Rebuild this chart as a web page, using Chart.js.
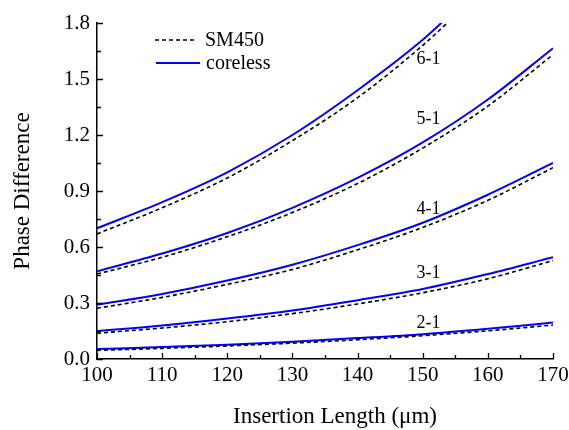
<!DOCTYPE html>
<html>
<head>
<meta charset="utf-8">
<script src="https://cdn.jsdelivr.net/npm/chart.js@4/dist/chart.umd.min.js"></script>
<style>
  html, body { margin: 0; padding: 0; background: #fff; }
  #wrap { width: 569px; height: 430px; }
</style>
</head>
<body>
<div id="wrap"><canvas id="phaseChart" width="569" height="430"></canvas></div>
<script>
// insertion lengths (um)
const lengths = [100, 110, 120, 130, 140, 150, 160, 170];
const lengths61 = [100, 110, 120, 130, 140, 150, 155];

// phase difference
const core61 = [0.70, 0.84, 1.00, 1.20, 1.44, 1.71, 1.87];
const sm61 = [0.67, 0.81, 0.97, 1.17, 1.40, 1.68, 1.84];
const core51 = [0.47, 0.565, 0.675, 0.81, 0.97, 1.16, 1.39, 1.665];
const sm51 = [0.455, 0.545, 0.655, 0.785, 0.94, 1.13, 1.355, 1.63];
const core41 = [0.29, 0.348, 0.42, 0.505, 0.61, 0.73, 0.88, 1.05];
const sm41 = [0.272, 0.33, 0.40, 0.48, 0.585, 0.705, 0.85, 1.025];
const core31 = [0.15, 0.18, 0.217, 0.26, 0.315, 0.375, 0.455, 0.545];
const sm31 = [0.138, 0.166, 0.20, 0.243, 0.295, 0.355, 0.43, 0.527];
const core21 = [0.053, 0.064, 0.077, 0.093, 0.112, 0.133, 0.162, 0.195];
const sm21 = [0.046, 0.057, 0.07, 0.085, 0.103, 0.125, 0.151, 0.182];

// curve labels: [text, x, y]
const curveLabels = [
  ['6-1', 150.9, 1.607],
  ['5-1', 150.9, 1.286],
  ['4-1', 150.9, 0.80],
  ['3-1', 150.9, 0.46],
  ['2-1', 150.9, 0.19]
];

const xTicks = [100, 110, 120, 130, 140, 150, 160, 170];
const yTicks = [0.0, 0.3, 0.6, 0.9, 1.2, 1.5, 1.8];

const FONT = '"Liberation Serif", "Times New Roman", serif';

function pts(xs, ys) {
  return xs.map((x, i) => ({ x: x, y: ys[i] }));
}

function smSet(xs, ys) {
  return {
    label: 'SM450',
    data: pts(xs, ys),
    borderColor: '#000000',
    borderWidth: 1.6,
    borderDash: [4, 3],
    pointRadius: 0,
    fill: false,
    cubicInterpolationMode: 'monotone'
  };
}

function coreSet(xs, ys) {
  return {
    label: 'coreless',
    data: pts(xs, ys),
    borderColor: '#0000ff',
    borderWidth: 2,
    pointRadius: 0,
    fill: false,
    cubicInterpolationMode: 'monotone'
  };
}

// inward ticks, legend, curve labels and x title
const decorPlugin = {
  id: 'decor',
  afterDraw(chart) {
    const ctx = chart.ctx;
    const xs = chart.scales.x;
    const ys = chart.scales.y;
    const area = chart.chartArea;
    ctx.save();
    ctx.strokeStyle = '#000';
    ctx.lineWidth = 1.3;
    ctx.beginPath();
    for (let v = 100; v <= 170; v += 5) {
      const px = Math.round(xs.getPixelForValue(v)) + 0.5;
      const len = v % 10 === 0 ? 6 : 4;
      ctx.moveTo(px, area.bottom);
      ctx.lineTo(px, area.bottom - len);
    }
    for (let i = 0; i <= 12; i++) {
      const py = Math.round(ys.getPixelForValue(i * 0.15)) + 0.5;
      const len = i % 2 === 0 ? 6 : 4;
      ctx.moveTo(area.left, py);
      ctx.lineTo(area.left + len, py);
    }
    ctx.stroke();

    // legend
    ctx.font = '20px ' + FONT;
    ctx.fillStyle = '#000';
    ctx.textBaseline = 'middle';
    ctx.textAlign = 'left';
    ctx.setLineDash([4, 3]);
    ctx.lineWidth = 1.6;
    ctx.strokeStyle = '#000';
    ctx.beginPath();
    ctx.moveTo(155, 40);
    ctx.lineTo(197, 40);
    ctx.stroke();
    ctx.setLineDash([]);
    ctx.fillText('SM450', 205, 41);
    ctx.lineWidth = 2;
    ctx.strokeStyle = '#0000ff';
    ctx.beginPath();
    ctx.moveTo(156, 63);
    ctx.lineTo(200, 63);
    ctx.stroke();
    ctx.fillText('coreless', 206, 64);

    // curve labels
    ctx.font = '18px ' + FONT;
    ctx.textAlign = 'center';
    curveLabels.forEach(([t, x, y]) => {
      ctx.fillText(t, xs.getPixelForValue(x), ys.getPixelForValue(y));
    });

    // x axis title (sits a little right of the axis centre in the original)
    ctx.font = '23px ' + FONT;
    ctx.fillText('Insertion Length (μm)', (area.left + area.right) / 2 + 10, 417);
    ctx.restore();
  }
};

const chart = new Chart(document.getElementById('phaseChart'), {
  type: 'line',
  data: {
    datasets: [
      smSet(lengths61, sm61), coreSet(lengths61, core61),
      smSet(lengths, sm51), coreSet(lengths, core51),
      smSet(lengths, sm41), coreSet(lengths, core41),
      smSet(lengths, sm31), coreSet(lengths, core31),
      smSet(lengths, sm21), coreSet(lengths, core21)
    ]
  },
  options: {
    responsive: false,
    animation: false,
    devicePixelRatio: 1,
    layout: {
      padding: { left: 0, right: 16, top: 23, bottom: 0 }
    },
    plugins: {
      legend: { display: false },
      tooltip: { enabled: false }
    },
    scales: {
      x: {
        type: 'linear',
        min: 100,
        max: 170,
        afterFit: function (scale) {
          scale.height = 71;
          scale.paddingLeft = 0;
          scale.paddingRight = 0;
        },
        afterBuildTicks: function (scale) {
          scale.ticks = xTicks.map(v => ({ value: v }));
        },
        grid: { display: true, drawOnChartArea: false, drawTicks: false },
        border: { display: true, color: '#000', width: 1.5 },
        ticks: {
          padding: 4,
          maxRotation: 0,
          color: '#000',
          font: { family: FONT, size: 21 }
        },
        title: { display: false }
      },
      y: {
        type: 'linear',
        min: 0,
        max: 1.8,
        afterFit: function (scale) {
          scale.width = 97;
          scale.paddingTop = 0;
          scale.paddingBottom = 0;
        },
        afterBuildTicks: function (scale) {
          scale.ticks = yTicks.map(v => ({ value: v }));
        },
        grid: { display: true, drawOnChartArea: false, drawTicks: false },
        border: { display: true, color: '#000', width: 1.5 },
        ticks: {
          padding: 7,
          color: '#000',
          font: { family: FONT, size: 21 },
          callback: function (value) { return value.toFixed(1); }
        },
        title: {
          display: true,
          text: 'Phase Difference',
          color: '#000',
          font: { family: FONT, size: 23 },
          padding: { top: 9, bottom: 0 }
        }
      }
    }
  },
  plugins: [decorPlugin]
});
</script>
</body>
</html>
